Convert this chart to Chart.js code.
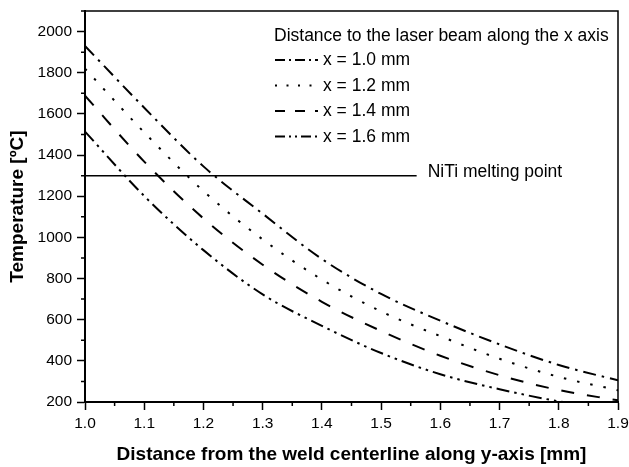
<!DOCTYPE html>
<html>
<head>
<meta charset="utf-8">
<script src="https://cdn.jsdelivr.net/npm/chart.js@4"></script>
<style>
  html, body { margin: 0; padding: 0; background: #fff; }
</style>
</head>
<body>
<canvas id="graph" width="629" height="467"></canvas>
<script>
// distance from the weld centerline (mm), x axis
const distances = [1.0, 1.1, 1.2, 1.3, 1.4, 1.5, 1.6, 1.7, 1.8, 1.9];
// temperature (ºC) for each distance to the laser beam
const temp10 = [1930, 1630, 1345, 1115, 895, 725, 595, 480, 380, 305];
const temp12 = [1820, 1510, 1225, 990, 795, 640, 520, 410, 322, 257];
const temp14 = [1688, 1368, 1092, 867, 687, 545, 425, 330, 258, 208];
const temp16 = [1514, 1201, 938, 723, 570, 438, 335, 262, 203, 160];
const seriesLabels = ["x = 1.0 mm", "x = 1.2 mm", "x = 1.4 mm", "x = 1.6 mm"];
const legendTitle = "Distance to the laser beam along the x axis";
// melting point line goes from the left axis up to this distance
const meltingPoint = 1300;
const meltingLineEnd = [1.0, 1.56];
const meltingLabel = "NiTi melting point";

const fontName = "'Liberation Sans', Arial, sans-serif";

//dash patterns, one for the curve and a shorter one for the legend sample
const curveDash = [[13, 6, 2.5, 6], [2.5, 11], [13, 13], [13, 5, 2.5, 5, 2.5, 5]];
const legendDash = [[10, 4, 2, 4], [2, 9.5], [10, 10], [10, 4, 2, 4, 2, 4]];

function toPoints(xs, ys) {
    let points = [];
    for (let i = 0; i < xs.length; i++) {
        points.push({x: xs[i], y: ys[i]});
    }
    return points;
}

function makeSeries(values, index) {
    return {
        label: seriesLabels[index],
        data: toPoints(distances, values),
        borderColor: "#000",
        borderWidth: 2,
        borderDash: curveDash[index],
        pointRadius: 0,
        cubicInterpolationMode: "monotone",
        fill: false
    };
}

//minor ticks, the frame, the legend and the melting point label
const decorations = {
    id: "decorations",
    afterDraw(chart) {
        const ctx = chart.ctx;
        const xs = chart.scales.x, ys = chart.scales.y;
        const area = chart.chartArea;
        ctx.save();
        ctx.strokeStyle = "#000";
        ctx.lineWidth = 1.5;
        ctx.setLineDash([]);
        ctx.beginPath();
        for (let v = 300; v <= 2100; v += 200) {
            let py = ys.getPixelForValue(v);
            ctx.moveTo(area.left - 4, py);
            ctx.lineTo(area.left, py);
        }
        for (let i = 0; i < 9; i++) {
            let px = xs.getPixelForValue(1.05 + i * 0.1);
            ctx.moveTo(px, area.bottom);
            ctx.lineTo(px, area.bottom + 4);
        }
        // top and right side of the frame
        ctx.moveTo(area.left, area.top);
        ctx.lineTo(area.right, area.top);
        ctx.lineTo(area.right, area.bottom);
        ctx.stroke();

        ctx.fillStyle = "#000";
        ctx.font = "17.5px " + fontName;
        ctx.textBaseline = "alphabetic";
        ctx.textAlign = "left";
        ctx.fillText(legendTitle, 274, 40.5);
        for (let i = 0; i < seriesLabels.length; i++) {
            let rowY = 60 + i * 25.5;
            ctx.setLineDash(legendDash[i]);
            ctx.lineWidth = 2;
            ctx.beginPath();
            ctx.moveTo(275, rowY);
            ctx.lineTo(318, rowY);
            ctx.stroke();
            ctx.fillText(seriesLabels[i], 323, rowY + 5);
        }

        let labelX = xs.getPixelForValue(meltingLineEnd[1]) + 11;
        let labelY = ys.getPixelForValue(meltingPoint);
        ctx.fillText(meltingLabel, labelX, labelY + 1);
        ctx.restore();
    }
};

function drawGraph() {
    let ctx = document.getElementById("graph").getContext("2d");
    let datasets = [
        makeSeries(temp10, 0),
        makeSeries(temp12, 1),
        makeSeries(temp14, 2),
        makeSeries(temp16, 3),
        {
            label: "melting",
            data: toPoints(meltingLineEnd, [meltingPoint, meltingPoint]),
            borderColor: "#000",
            borderWidth: 1.5,
            pointRadius: 0,
            fill: false
        }
    ];
    new Chart(ctx, {
        type: "line",
        data: {datasets: datasets},
        options: {
            responsive: false,
            animation: false,
            layout: {padding: {top: 11, right: 11, left: 0, bottom: 0}},
            plugins: {legend: {display: false}, tooltip: {enabled: false}},
            scales: {
                x: {
                    type: "linear",
                    min: 1.0,
                    max: 1.9,
                    grid: {drawOnChartArea: false, tickLength: 8, tickWidth: 1.5, tickColor: "#000"},
                    border: {color: "#000", width: 2},
                    ticks: {
                        stepSize: 0.1,
                        autoSkip: false,
                        maxRotation: 0,
                        padding: 4,
                        color: "#000",
                        font: {family: fontName, size: 15.5},
                        callback: (value) => Number(value).toFixed(1)
                    },
                    title: {
                        display: true,
                        text: "Distance from the weld centerline along y-axis [mm]",
                        color: "#000",
                        font: {family: fontName, size: 19, weight: "bold"},
                        padding: {top: 0, bottom: 1}
                    },
                    afterFit: (scale) => {
                        scale.height = 65;
                        scale.paddingLeft = 0;
                        scale.paddingRight = 0;
                    }
                },
                y: {
                    min: 200,
                    max: 2100,
                    grid: {drawOnChartArea: false, tickLength: 8, tickWidth: 1.5, tickColor: "#000"},
                    border: {color: "#000", width: 2},
                    ticks: {
                        stepSize: 200,
                        padding: 5,
                        color: "#000",
                        font: {family: fontName, size: 15.5},
                        callback: (value) => String(value)
                    },
                    afterBuildTicks: (scale) => {
                        //the 2100 top end is only a minor tick
                        scale.ticks = scale.ticks.filter(t => t.value % 200 === 0);
                    },
                    title: {
                        display: true,
                        text: "Temperature [ºC]",
                        color: "#000",
                        font: {family: fontName, size: 19, weight: "bold"},
                        padding: {top: 6, bottom: 0}
                    },
                    afterFit: (scale) => {
                        scale.width = 85;
                        scale.paddingTop = 0;
                        scale.paddingBottom = 0;
                    }
                }
            }
        },
        plugins: [decorations]
    });
}

drawGraph();
</script>
</body>
</html>
